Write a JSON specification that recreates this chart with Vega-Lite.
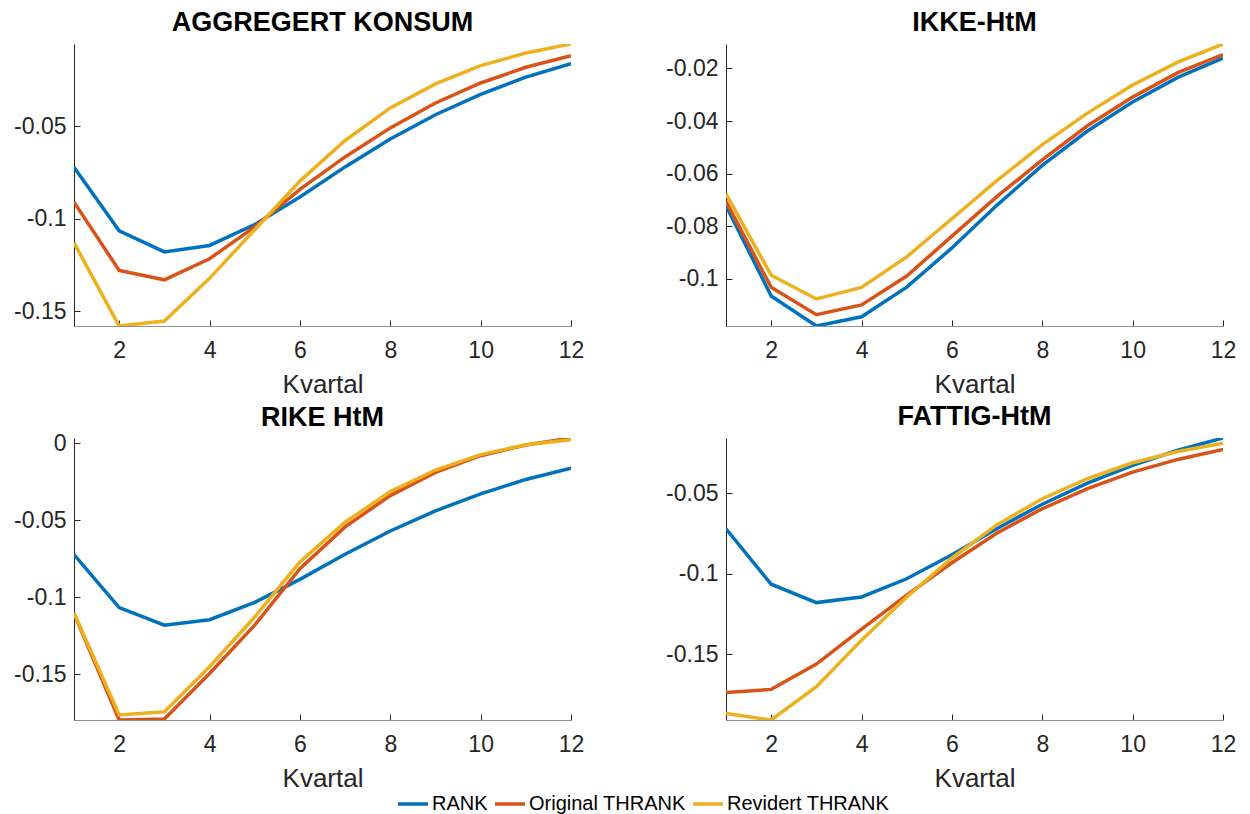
{
"$schema": "https://vega.github.io/schema/vega-lite/v6.json",
"background": "white",
"padding": {"left": 13, "top": 9, "right": 5, "bottom": 40},
"data": {"values": [
{"p":"A","s":"RANK","q":1,"v":-0.0722},{"p":"A","s":"RANK","q":2,"v":-0.1066},{"p":"A","s":"RANK","q":3,"v":-0.118},{"p":"A","s":"RANK","q":4,"v":-0.1145},{"p":"A","s":"RANK","q":5,"v":-0.1032},{"p":"A","s":"RANK","q":6,"v":-0.0883},{"p":"A","s":"RANK","q":7,"v":-0.072},{"p":"A","s":"RANK","q":8,"v":-0.0569},{"p":"A","s":"RANK","q":9,"v":-0.0438},{"p":"A","s":"RANK","q":10,"v":-0.0328},{"p":"A","s":"RANK","q":11,"v":-0.0234},{"p":"A","s":"RANK","q":12,"v":-0.0161},
{"p":"A","s":"Original THRANK","q":1,"v":-0.0911},{"p":"A","s":"Original THRANK","q":2,"v":-0.128},{"p":"A","s":"Original THRANK","q":3,"v":-0.1331},{"p":"A","s":"Original THRANK","q":4,"v":-0.1217},{"p":"A","s":"Original THRANK","q":5,"v":-0.1045},{"p":"A","s":"Original THRANK","q":6,"v":-0.0842},{"p":"A","s":"Original THRANK","q":7,"v":-0.0666},{"p":"A","s":"Original THRANK","q":8,"v":-0.0509},{"p":"A","s":"Original THRANK","q":9,"v":-0.0374},{"p":"A","s":"Original THRANK","q":10,"v":-0.0266},{"p":"A","s":"Original THRANK","q":11,"v":-0.0181},{"p":"A","s":"Original THRANK","q":12,"v":-0.0118},
{"p":"A","s":"Revidert THRANK","q":1,"v":-0.1131},{"p":"A","s":"Revidert THRANK","q":2,"v":-0.1581},{"p":"A","s":"Revidert THRANK","q":3,"v":-0.1554},{"p":"A","s":"Revidert THRANK","q":4,"v":-0.1323},{"p":"A","s":"Revidert THRANK","q":5,"v":-0.106},{"p":"A","s":"Revidert THRANK","q":6,"v":-0.0797},{"p":"A","s":"Revidert THRANK","q":7,"v":-0.0577},{"p":"A","s":"Revidert THRANK","q":8,"v":-0.0401},{"p":"A","s":"Revidert THRANK","q":9,"v":-0.0271},{"p":"A","s":"Revidert THRANK","q":10,"v":-0.0172},{"p":"A","s":"Revidert THRANK","q":11,"v":-0.0104},{"p":"A","s":"Revidert THRANK","q":12,"v":-0.0055},
{"p":"B","s":"RANK","q":1,"v":-0.0722},{"p":"B","s":"RANK","q":2,"v":-0.1066},{"p":"B","s":"RANK","q":3,"v":-0.118},{"p":"B","s":"RANK","q":4,"v":-0.1145},{"p":"B","s":"RANK","q":5,"v":-0.1032},{"p":"B","s":"RANK","q":6,"v":-0.0883},{"p":"B","s":"RANK","q":7,"v":-0.072},{"p":"B","s":"RANK","q":8,"v":-0.0569},{"p":"B","s":"RANK","q":9,"v":-0.0438},{"p":"B","s":"RANK","q":10,"v":-0.0328},{"p":"B","s":"RANK","q":11,"v":-0.0234},{"p":"B","s":"RANK","q":12,"v":-0.0161},
{"p":"B","s":"Original THRANK","q":1,"v":-0.0706},{"p":"B","s":"Original THRANK","q":2,"v":-0.1033},{"p":"B","s":"Original THRANK","q":3,"v":-0.1137},{"p":"B","s":"Original THRANK","q":4,"v":-0.11},{"p":"B","s":"Original THRANK","q":5,"v":-0.099},{"p":"B","s":"Original THRANK","q":6,"v":-0.0838},{"p":"B","s":"Original THRANK","q":7,"v":-0.0687},{"p":"B","s":"Original THRANK","q":8,"v":-0.0548},{"p":"B","s":"Original THRANK","q":9,"v":-0.0418},{"p":"B","s":"Original THRANK","q":10,"v":-0.0309},{"p":"B","s":"Original THRANK","q":11,"v":-0.0216},{"p":"B","s":"Original THRANK","q":12,"v":-0.0147},
{"p":"B","s":"Revidert THRANK","q":1,"v":-0.0677},{"p":"B","s":"Revidert THRANK","q":2,"v":-0.0987},{"p":"B","s":"Revidert THRANK","q":3,"v":-0.1077},{"p":"B","s":"Revidert THRANK","q":4,"v":-0.1033},{"p":"B","s":"Revidert THRANK","q":5,"v":-0.0917},{"p":"B","s":"Revidert THRANK","q":6,"v":-0.0772},{"p":"B","s":"Revidert THRANK","q":7,"v":-0.0626},{"p":"B","s":"Revidert THRANK","q":8,"v":-0.049},{"p":"B","s":"Revidert THRANK","q":9,"v":-0.037},{"p":"B","s":"Revidert THRANK","q":10,"v":-0.0263},{"p":"B","s":"Revidert THRANK","q":11,"v":-0.0176},{"p":"B","s":"Revidert THRANK","q":12,"v":-0.0107},
{"p":"C","s":"RANK","q":1,"v":-0.0722},{"p":"C","s":"RANK","q":2,"v":-0.1066},{"p":"C","s":"RANK","q":3,"v":-0.118},{"p":"C","s":"RANK","q":4,"v":-0.1145},{"p":"C","s":"RANK","q":5,"v":-0.1032},{"p":"C","s":"RANK","q":6,"v":-0.0883},{"p":"C","s":"RANK","q":7,"v":-0.072},{"p":"C","s":"RANK","q":8,"v":-0.0569},{"p":"C","s":"RANK","q":9,"v":-0.0438},{"p":"C","s":"RANK","q":10,"v":-0.0328},{"p":"C","s":"RANK","q":11,"v":-0.0234},{"p":"C","s":"RANK","q":12,"v":-0.0161},
{"p":"C","s":"Original THRANK","q":1,"v":-0.1105},{"p":"C","s":"Original THRANK","q":2,"v":-0.1796},{"p":"C","s":"Original THRANK","q":3,"v":-0.179},{"p":"C","s":"Original THRANK","q":4,"v":-0.1494},{"p":"C","s":"Original THRANK","q":5,"v":-0.118},{"p":"C","s":"Original THRANK","q":6,"v":-0.0813},{"p":"C","s":"Original THRANK","q":7,"v":-0.0542},{"p":"C","s":"Original THRANK","q":8,"v":-0.0339},{"p":"C","s":"Original THRANK","q":9,"v":-0.0188},{"p":"C","s":"Original THRANK","q":10,"v":-0.008},{"p":"C","s":"Original THRANK","q":11,"v":-0.0011},{"p":"C","s":"Original THRANK","q":12,"v":0.0035},
{"p":"C","s":"Revidert THRANK","q":1,"v":-0.11},{"p":"C","s":"Revidert THRANK","q":2,"v":-0.1763},{"p":"C","s":"Revidert THRANK","q":3,"v":-0.1742},{"p":"C","s":"Revidert THRANK","q":4,"v":-0.145},{"p":"C","s":"Revidert THRANK","q":5,"v":-0.1127},{"p":"C","s":"Revidert THRANK","q":6,"v":-0.077},{"p":"C","s":"Revidert THRANK","q":7,"v":-0.0512},{"p":"C","s":"Revidert THRANK","q":8,"v":-0.0313},{"p":"C","s":"Revidert THRANK","q":9,"v":-0.0173},{"p":"C","s":"Revidert THRANK","q":10,"v":-0.0073},{"p":"C","s":"Revidert THRANK","q":11,"v":-0.0009},{"p":"C","s":"Revidert THRANK","q":12,"v":0.0024},
{"p":"D","s":"RANK","q":1,"v":-0.0722},{"p":"D","s":"RANK","q":2,"v":-0.1066},{"p":"D","s":"RANK","q":3,"v":-0.118},{"p":"D","s":"RANK","q":4,"v":-0.1145},{"p":"D","s":"RANK","q":5,"v":-0.1032},{"p":"D","s":"RANK","q":6,"v":-0.0883},{"p":"D","s":"RANK","q":7,"v":-0.072},{"p":"D","s":"RANK","q":8,"v":-0.0569},{"p":"D","s":"RANK","q":9,"v":-0.0438},{"p":"D","s":"RANK","q":10,"v":-0.0328},{"p":"D","s":"RANK","q":11,"v":-0.0234},{"p":"D","s":"RANK","q":12,"v":-0.0158},
{"p":"D","s":"Original THRANK","q":1,"v":-0.1738},{"p":"D","s":"Original THRANK","q":2,"v":-0.1719},{"p":"D","s":"Original THRANK","q":3,"v":-0.1562},{"p":"D","s":"Original THRANK","q":4,"v":-0.1345},{"p":"D","s":"Original THRANK","q":5,"v":-0.1134},{"p":"D","s":"Original THRANK","q":6,"v":-0.0933},{"p":"D","s":"Original THRANK","q":7,"v":-0.0748},{"p":"D","s":"Original THRANK","q":8,"v":-0.0597},{"p":"D","s":"Original THRANK","q":9,"v":-0.0473},{"p":"D","s":"Original THRANK","q":10,"v":-0.037},{"p":"D","s":"Original THRANK","q":11,"v":-0.0291},{"p":"D","s":"Original THRANK","q":12,"v":-0.0229},
{"p":"D","s":"Revidert THRANK","q":1,"v":-0.1868},{"p":"D","s":"Revidert THRANK","q":2,"v":-0.1909},{"p":"D","s":"Revidert THRANK","q":3,"v":-0.1702},{"p":"D","s":"Revidert THRANK","q":4,"v":-0.1413},{"p":"D","s":"Revidert THRANK","q":5,"v":-0.1145},{"p":"D","s":"Revidert THRANK","q":6,"v":-0.0903},{"p":"D","s":"Revidert THRANK","q":7,"v":-0.0696},{"p":"D","s":"Revidert THRANK","q":8,"v":-0.0535},{"p":"D","s":"Revidert THRANK","q":9,"v":-0.0411},{"p":"D","s":"Revidert THRANK","q":10,"v":-0.0312},{"p":"D","s":"Revidert THRANK","q":11,"v":-0.0242},{"p":"D","s":"Revidert THRANK","q":12,"v":-0.019}
]},
"columns": 2,
"spacing": {"column": 81, "row": 6},
"concat": [
{"width": 497, "height": 282, "title": "AGGREGERT KONSUM",
 "transform": [{"filter": "datum.p === 'A'"}],
 "mark": {"type": "line", "strokeWidth": 3.5, "clip": true},
 "encoding": {
  "x": {"field": "q", "type": "quantitative", "scale": {"domain": [1, 12], "nice": false}, "axis": {"values": [2,4,6,8,10,12], "title": "Kvartal"}},
  "y": {"field": "v", "type": "quantitative", "scale": {"domain": [-0.1581, -0.0055], "nice": false, "zero": false}, "axis": {"values": [-0.15,-0.1,-0.05], "title": null, "labelExpr": "toString(datum.value)"}},
  "color": {"field": "s", "type": "nominal", "scale": {"domain": ["RANK","Original THRANK","Revidert THRANK"], "range": ["#0072BD","#D95319","#EDB120"]}, "legend": {"title": null, "orient": "none", "direction": "horizontal", "legendX": 322, "legendY": 743}}
 }},
{"width": 497, "height": 282, "title": "IKKE-HtM",
 "transform": [{"filter": "datum.p === 'B'"}],
 "mark": {"type": "line", "strokeWidth": 3.5, "clip": true},
 "encoding": {
  "x": {"field": "q", "type": "quantitative", "scale": {"domain": [1, 12], "nice": false}, "axis": {"values": [2,4,6,8,10,12], "title": "Kvartal"}},
  "y": {"field": "v", "type": "quantitative", "scale": {"domain": [-0.118, -0.0107], "nice": false, "zero": false}, "axis": {"values": [-0.1,-0.08,-0.06,-0.04,-0.02], "title": null, "labelExpr": "toString(datum.value)"}},
  "color": {"field": "s", "type": "nominal"}
 }},
{"width": 497, "height": 282, "title": {"text": "RIKE HtM", "offset": 0},
 "transform": [{"filter": "datum.p === 'C'"}],
 "mark": {"type": "line", "strokeWidth": 3.5, "clip": true},
 "encoding": {
  "x": {"field": "q", "type": "quantitative", "scale": {"domain": [1, 12], "nice": false}, "axis": {"values": [2,4,6,8,10,12], "title": "Kvartal"}},
  "y": {"field": "v", "type": "quantitative", "scale": {"domain": [-0.1796, 0.0035], "nice": false, "zero": false}, "axis": {"values": [-0.15,-0.1,-0.05,0], "title": null, "labelExpr": "toString(datum.value)"}},
  "color": {"field": "s", "type": "nominal"}
 }},
{"width": 497, "height": 282, "title": "FATTIG-HtM",
 "transform": [{"filter": "datum.p === 'D'"}],
 "mark": {"type": "line", "strokeWidth": 3.5, "clip": true},
 "encoding": {
  "x": {"field": "q", "type": "quantitative", "scale": {"domain": [1, 12], "nice": false}, "axis": {"values": [2,4,6,8,10,12], "title": "Kvartal"}},
  "y": {"field": "v", "type": "quantitative", "scale": {"domain": [-0.1909, -0.0158], "nice": false, "zero": false}, "axis": {"values": [-0.15,-0.1,-0.05], "title": null, "labelExpr": "toString(datum.value)"}},
  "color": {"field": "s", "type": "nominal"}
 }}
],
"config": {
 "view": {"stroke": null},
 "font": "Liberation Sans",
 "axis": {"grid": false, "tickColor": "#262626", "labelColor": "#262626", "titleColor": "#262626", "labelFont": "Liberation Sans", "titleFont": "Liberation Sans", "labelFontSize": 23, "titleFontSize": 26, "titleFontWeight": "normal", "tickSize": -6, "titlePadding": 9, "labelFlush": false, "labelOverlap": false, "domainWidth": 1, "tickWidth": 1},
 "axisX": {"labelPadding": 19, "domainColor": "#909090"},
 "axisY": {"labelPadding": 14, "domainColor": "#262626"},
 "title": {"font": "Liberation Sans", "fontSize": 27, "fontWeight": "bold", "color": "#000000", "offset": 7, "frame": "group"},
 "legend": {"symbolType": "stroke", "symbolStrokeWidth": 3.5, "symbolSize": 900, "labelFont": "Liberation Sans", "labelFontSize": 20, "labelColor": "#000000", "labelLimit": 400, "columnPadding": 0, "labelOffset": 2}
}
}
